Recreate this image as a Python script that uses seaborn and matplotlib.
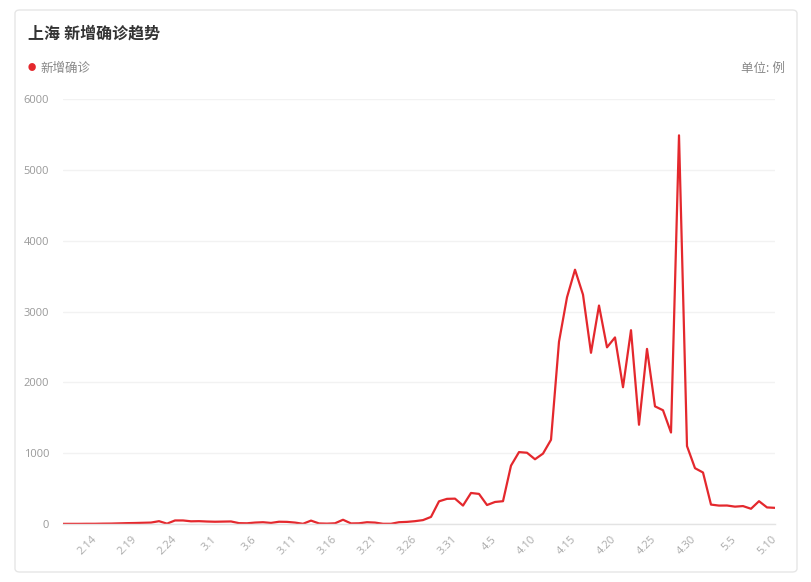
import pandas as pd
import numpy as np
import matplotlib.pyplot as plt
import seaborn as sns
from matplotlib.patches import FancyBboxPatch

# données (2.10 -> 5.10)
start_date = '2022-02-10'
cases = [
    2, 2, 2, 3, 3, 5, 6, 9, 12, 14, 17, 20, 40, 5, 50, 50, 38, 40, 35,   # fév
    32, 34, 36, 12, 10, 20, 25, 15, 32, 30, 20, 3, 48, 8, 5, 10, 60, 8,  # mars
    10, 25, 20, 3, 3, 25, 30, 40, 55, 100, 320, 355, 358,
    260, 438, 425, 268, 311, 322, 824, 1015, 1006, 914, 994, 1189, 2573,  # avril
    3200, 3590, 3238, 2417, 3084, 2494, 2634, 1931, 2736, 1401, 2472,
    1661, 1606, 1292, 5487, 1100, 788,
    727, 274, 260, 261, 245, 253, 215, 322, 234, 228,                      # mai
]
tick_labels = ['2.14', '2.19', '2.24', '3.1', '3.6', '3.11', '3.16', '3.21', '3.26',
               '3.31', '4.5', '4.10', '4.15', '4.20', '4.25', '4.30', '5.5', '5.10']
y_ticks = [0, 1000, 2000, 3000, 4000, 5000, 6000]

dates = pd.date_range(start_date, periods=len(cases), freq='D')
df = pd.DataFrame({'date': dates, 'cases': cases})

sns.set_style('white')
plt.rcParams['font.family'] = ['Open Sans', 'Noto Sans CJK SC', 'DejaVu Sans']

W, H = 811, 582
fig = plt.figure(figsize=(W / 100, H / 100), dpi=100)
fig.patch.set_facecolor('white')

# cadre de la carte
card = FancyBboxPatch((15 / W, 10 / H), 782 / W, 562 / H,
                      boxstyle='round,pad=0,rounding_size=0.006',
                      transform=fig.transFigure, facecolor='white',
                      edgecolor='#e6e6e6', linewidth=1, zorder=-1)
fig.patches.append(card)

ax = fig.add_axes([63 / W, 1 - 524 / H, (775 - 63) / W, (524 - 99) / H])
ax.set_facecolor('none')
ax.set_zorder(2)

sns.lineplot(data=df, x='date', y='cases', ax=ax, color='#e4282d', linewidth=1.6)

ax.set_xlim(dates[0], dates[-1])
ax.set_ylim(0, 6000)
ax.set_yticks(y_ticks)
ax.set_yticklabels([str(v) for v in y_ticks], fontsize=8, color='#999999')

tick_pos = [d for d in dates if f'{d.month}.{d.day}' in tick_labels]
ax.set_xticks(tick_pos)
ax.set_xticklabels(tick_labels, fontsize=8, color='#aaaaaa', rotation=45,
                   ha='right', va='center', rotation_mode='anchor')
ax.tick_params(axis='x', length=0, pad=10)
ax.tick_params(axis='y', length=0, pad=10)
ax.set_xlabel('')
ax.set_ylabel('')

ax.grid(axis='y', color='#f2f2f2', linewidth=1)
ax.set_axisbelow(True)
for side in ['top', 'right', 'left']:
    ax.spines[side].set_visible(False)
ax.spines['bottom'].set_color('#e3e3e3')
ax.spines['bottom'].set_linewidth(1)

# titre et légende
fig.text(28 / W, 1 - 35 / H, '上海 新增确诊趋势', fontsize=11.5, fontweight='bold',
         color='#333333', va='center', ha='left')
fig.text(32 / W, 1 - 68 / H, '●', fontsize=6, color='#e4282d', va='center', ha='center')
fig.text(40 / W, 1 - 68 / H, '新增确诊', fontsize=9, color='#888888', va='center', ha='left')
fig.text(785 / W, 1 - 68 / H, '单位: 例', fontsize=9, color='#888888', va='center', ha='right')

plt.savefig('out.png', dpi=100, facecolor='white')
